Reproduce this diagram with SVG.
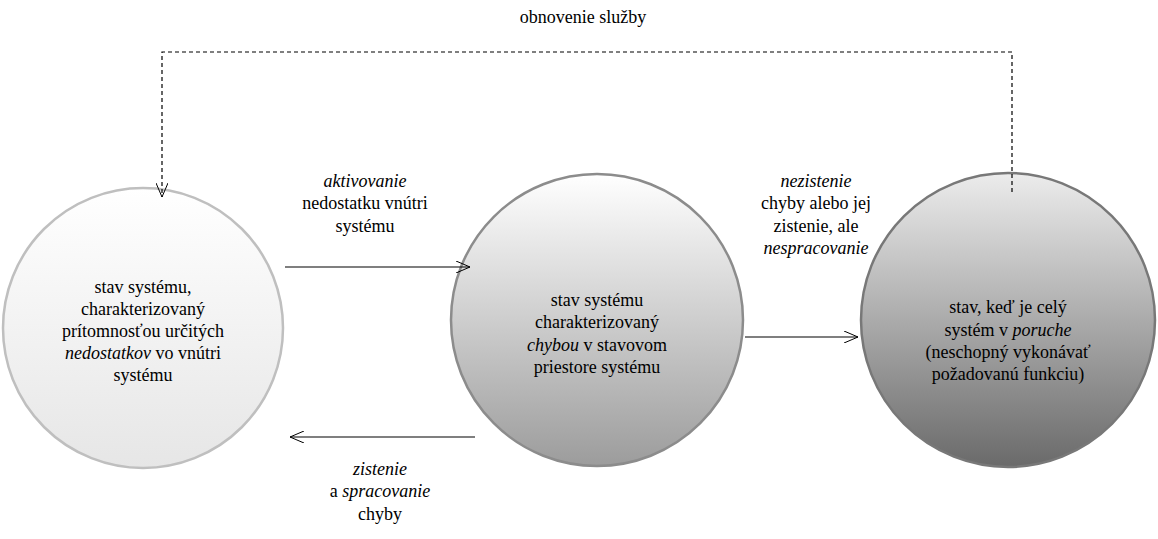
<svg xmlns="http://www.w3.org/2000/svg" width="1158" height="539" viewBox="0 0 1158 539">
<defs>
<linearGradient id="g1" x1="0" y1="0" x2="0" y2="1">
<stop offset="0" stop-color="#ffffff"/><stop offset="1" stop-color="#e6e6e6"/>
</linearGradient>
<linearGradient id="g2" x1="0" y1="0" x2="0" y2="1">
<stop offset="0" stop-color="#ffffff"/><stop offset="1" stop-color="#9c9c9c"/>
</linearGradient>
<linearGradient id="g3" x1="0" y1="0" x2="0" y2="1">
<stop offset="0" stop-color="#ececec"/><stop offset="1" stop-color="#6a6a6a"/>
</linearGradient>
<marker id="arr" viewBox="0 0 14 12" refX="14" refY="6" markerWidth="14" markerHeight="12" markerUnits="userSpaceOnUse" orient="auto">
<path d="M0,0 L14,6 L0,12" fill="none" stroke="#000" stroke-width="1"/>
</marker>
</defs>
<style>
text{font-family:'Liberation Serif','Times New Roman',serif;font-size:18px;fill:#000;text-anchor:middle}
.i{font-style:italic}
.c{fill:none;stroke:#000;stroke-width:1.2}
.d{fill:none;stroke:#000;stroke-width:1.2;stroke-dasharray:4,3}
</style>
<text x="583" y="23">obnovenie služby</text>
<g id="n1">
<circle cx="143" cy="328" r="140" fill="url(#g1)" stroke="#bfbfbf" stroke-width="2.5"/>
<text x="143" y="293">stav systému,</text>
<text x="143" y="315">charakterizovaný</text>
<text x="143" y="337">prítomnosťou určitých</text>
<text x="143" y="359"><tspan class="i">nedostatkov</tspan> vo vnútri</text>
<text x="143" y="381">systému</text>
</g>
<g id="n2">
<circle cx="597" cy="320" r="146" fill="url(#g2)" stroke="#8c8c8c" stroke-width="2.5"/>
<text x="597" y="306">stav systému</text>
<text x="597" y="328">charakterizovaný</text>
<text x="597" y="351"><tspan class="i">chybou</tspan> v stavovom</text>
<text x="597" y="373">priestore systému</text>
</g>
<g id="n3">
<circle cx="1008" cy="320" r="147" fill="url(#g3)" stroke="#787878" stroke-width="2.5"/>
<text x="1008" y="313">stav, keď je celý</text>
<text x="1008" y="336">systém v <tspan class="i">poruche</tspan></text>
<text x="1008" y="358">(neschopný vykonávať</text>
<text x="1008" y="380">požadovanú funkciu)</text>
</g>
<g id="connectors">
<path class="d" d="M1012,192 V52 H162 V197" marker-end="url(#arr)"/>
<path class="c" d="M285,267 H470" marker-end="url(#arr)"/>
<path class="c" d="M745,337 H858" marker-end="url(#arr)"/>
<path class="c" d="M475,437 H290" marker-end="url(#arr)"/>
</g>
<g id="labels">
<text x="365" y="187" class="i">aktivovanie</text>
<text x="365" y="209">nedostatku vnútri</text>
<text x="365" y="232">systému</text>
<text x="816" y="187" class="i">nezistenie</text>
<text x="816" y="209">chyby alebo jej</text>
<text x="816" y="232">zistenie, ale</text>
<text x="816" y="254" class="i">nespracovanie</text>
<text x="380" y="475" class="i">zistenie</text>
<text x="380" y="497">a <tspan class="i">spracovanie</tspan></text>
<text x="380" y="520">chyby</text>
</g>
</svg>
